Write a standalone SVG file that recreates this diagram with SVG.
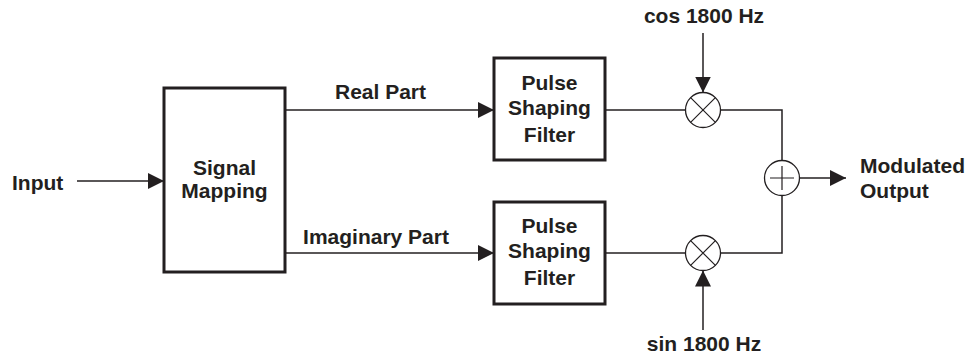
<svg xmlns="http://www.w3.org/2000/svg" width="969" height="355" viewBox="0 0 969 355">
  <style>
    text { font-family: "Liberation Sans", Arial, sans-serif; font-weight: bold; font-size: 21px; fill: #231f20; }
    .mid { text-anchor: middle; }
    .box { fill: #ffffff; stroke: #231f20; stroke-width: 3; }
    .op { fill: #ffffff; stroke: #231f20; stroke-width: 1.3; }
    .sign { stroke: #231f20; stroke-width: 1.2; fill: none; }
    .wire { stroke: #231f20; stroke-width: 1.5; fill: none; }
  </style>
  <defs>
    <marker id="arrow" markerUnits="userSpaceOnUse" markerWidth="18" markerHeight="16" refX="16" refY="8" orient="auto">
      <path d="M0,0 L16,8 L0,16 Z" fill="#231f20"/>
    </marker>
  </defs>

  <rect width="969" height="355" fill="#ffffff"/>

  <g id="connectors">
    <line class="wire" x1="77" y1="181" x2="164" y2="181" marker-end="url(#arrow)"/>
    <line class="wire" x1="285" y1="110" x2="494" y2="110" marker-end="url(#arrow)"/>
    <line class="wire" x1="285" y1="253" x2="494" y2="253" marker-end="url(#arrow)"/>
    <line class="wire" x1="605" y1="110" x2="685.5" y2="110"/>
    <line class="wire" x1="605" y1="253" x2="685.5" y2="253"/>
    <line class="wire" x1="703" y1="33" x2="703" y2="92.5" marker-end="url(#arrow)"/>
    <line class="wire" x1="703" y1="330" x2="703" y2="270.5" marker-end="url(#arrow)"/>
    <polyline class="wire" points="720.5,110 782,110 782,160.5"/>
    <polyline class="wire" points="720.5,253 782,253 782,195.5"/>
    <line class="wire" x1="799.5" y1="178" x2="846" y2="178" marker-end="url(#arrow)"/>
  </g>

  <g id="input">
    <text x="12" y="190">Input</text>
  </g>

  <g id="signal-mapping">
    <rect class="box" x="164" y="88" width="121" height="184"/>
    <text class="mid" x="224.5" y="175">Signal</text>
    <text class="mid" x="224.5" y="198">Mapping</text>
  </g>

  <g id="real-part-label">
    <text class="mid" x="380.5" y="99">Real Part</text>
  </g>
  <g id="imaginary-part-label">
    <text class="mid" x="376" y="244">Imaginary Part</text>
  </g>

  <g id="filter-real">
    <rect class="box" x="494" y="58" width="111" height="102"/>
    <text class="mid" x="549.5" y="90">Pulse</text>
    <text class="mid" x="549.5" y="115">Shaping</text>
    <text class="mid" x="549.5" y="142">Filter</text>
  </g>

  <g id="filter-imag">
    <rect class="box" x="494" y="202" width="111" height="102"/>
    <text class="mid" x="549.5" y="233">Pulse</text>
    <text class="mid" x="549.5" y="258">Shaping</text>
    <text class="mid" x="549.5" y="285">Filter</text>
  </g>

  <g id="mixer-cos">
    <circle class="op" cx="703" cy="110" r="17.5"/>
    <path class="sign" d="M690.6,97.6 L715.4,122.4 M715.4,97.6 L690.6,122.4"/>
  </g>
  <g id="mixer-sin">
    <circle class="op" cx="703" cy="253" r="17.5"/>
    <path class="sign" d="M690.6,240.6 L715.4,265.4 M715.4,240.6 L690.6,265.4"/>
  </g>

  <g id="cos-source">
    <text class="mid" x="704" y="23">cos 1800 Hz</text>
  </g>
  <g id="sin-source">
    <text class="mid" x="704" y="351">sin 1800 Hz</text>
  </g>

  <g id="summer">
    <circle class="op" cx="782" cy="178" r="17.5"/>
    <path class="sign" d="M770,178 L794,178 M782,166 L782,190"/>
  </g>

  <g id="output">
    <text x="860" y="173">Modulated</text>
    <text x="860" y="198">Output</text>
  </g>
</svg>
